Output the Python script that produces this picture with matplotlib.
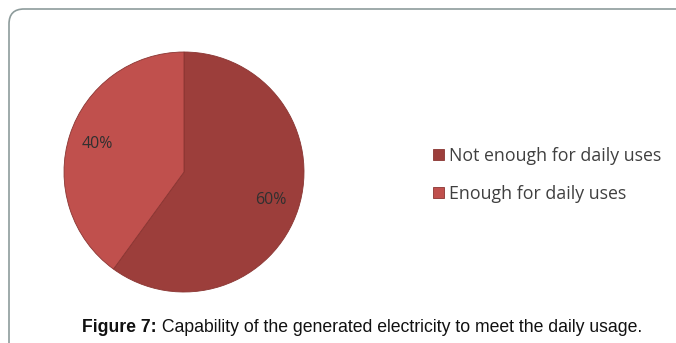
import matplotlib.pyplot as plt
from matplotlib.patches import FancyBboxPatch

# Dados do gráfico
labels = ['Not enough for daily uses', 'Enough for daily uses']
shares = [60, 40]
colors = ['#9C3E3B', '#C0504D']
caption_bold = 'Figure 7:'
caption_rest = ' Capability of the generated electricity to meet the daily usage.'

W, H = 676, 343
fig = plt.figure(figsize=(W / 100, H / 100), dpi=100)
ax = fig.add_axes([0, 0, 1, 1])

# Moldura arredondada
frame = FancyBboxPatch((9, -30), 700, 364, boxstyle='round,pad=0,rounding_size=15',
                       facecolor='white', edgecolor='#8E9C9C', lw=1.2)
ax.add_patch(frame)

# Pizza
wedges, texts, autotexts = ax.pie(
    shares, colors=colors, startangle=90, counterclock=False,
    center=(184, H - 172), radius=120, autopct='%d%%', pctdistance=0.76,
    wedgeprops=dict(edgecolor='#8A3532', linewidth=0.6),
    textprops=dict(color='#303030', fontsize=11.5, family='Open Sans'))

ax.set_xlim(0, W)
ax.set_ylim(0, H)
ax.set_aspect('auto')
ax.axis('off')

# Legenda
ax.legend(wedges, labels, loc='upper left', bbox_to_anchor=(433 / W, 1 - 147 / H),
          frameon=False, handlelength=0.6, handleheight=0.6, handletextpad=0.3,
          labelspacing=1.1, borderpad=0, borderaxespad=0,
          prop=dict(family='Open Sans', size=12.8), labelcolor='#404040')

# Legenda da figura
t = ax.text(82, H - 327, caption_bold, fontsize=12.7, fontweight='bold',
            family='Liberation Sans', va='center', color='#111111')
ax.annotate(caption_rest, xy=(1, 0.5), xycoords=t, va='center', ha='left',
            fontsize=12.7, family='Liberation Sans', color='#111111')

fig.savefig('out.png', dpi=100)
